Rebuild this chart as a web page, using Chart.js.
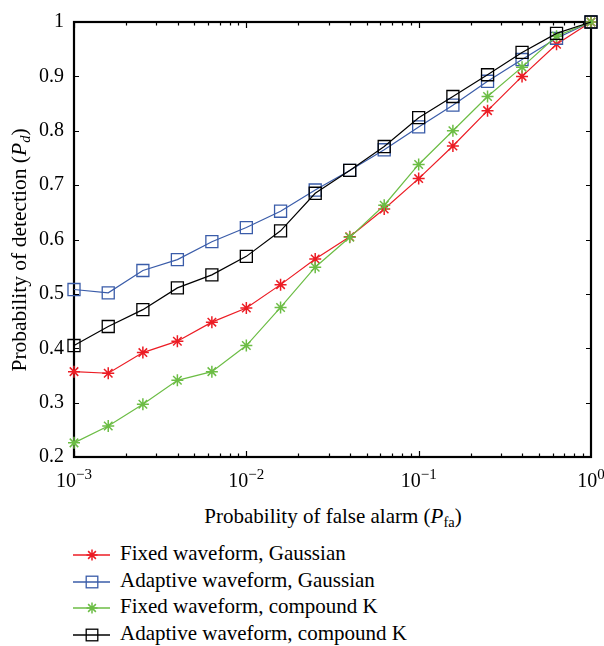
<!DOCTYPE html>
<html>
<head>
<meta charset="utf-8">
<script src="https://cdn.jsdelivr.net/npm/chart.js@4.4.1/dist/chart.umd.min.js"></script>
<style>
  html, body { margin: 0; padding: 0; background: #fff; }
  #wrap { position: relative; width: 604px; height: 646px; overflow: hidden; font-family: "Liberation Serif", "DejaVu Serif", serif; color: #000; }
  #c { position: absolute; left: 0; top: 0; }
  .t { position: absolute; font-size: 21px; line-height: 24px; height: 24px; white-space: nowrap; }
  .t i { font-style: italic; }
  .t sub { font-size: 14.5px; vertical-align: -4px; line-height: 0; }
  #xt { left: 0; width: 666px; top: 504px; text-align: center; }
  #yt { left: -181px; width: 400px; top: 238px; text-align: center; transform: rotate(-90deg); transform-origin: 50% 50%; font-size: 21.5px; }
  .lg { position: absolute; left: 72px; height: 24px; }
  .lg svg { position: absolute; left: 0; top: 0; }
  .lg span { position: absolute; left: 48px; top: 0; font-size: 21px; line-height: 24px; white-space: nowrap; }
</style>
</head>
<body>
<div id="wrap">
  <canvas id="c" width="604" height="495"></canvas>
  <div class="t" id="yt">Probability of detection (<i>P</i><sub><i>d</i></sub>)</div>
  <div class="t" id="xt">Probability of false alarm (<i>P</i><sub>fa</sub>)</div>
  <div id="legend"></div>
</div>
<script>
// ---- data ----
const pfa = [0.001, 0.00158, 0.00251, 0.00398, 0.00631, 0.01, 0.0158, 0.0251, 0.0398, 0.0631, 0.1, 0.158, 0.251, 0.398, 0.631, 1];
const fixedGaussian    = [0.357, 0.354, 0.392, 0.413, 0.448, 0.474, 0.517, 0.564, 0.605, 0.656, 0.712, 0.772, 0.837, 0.900, 0.959, 1.0];
const adaptiveGaussian = [0.508, 0.502, 0.543, 0.563, 0.596, 0.622, 0.652, 0.691, 0.727, 0.765, 0.807, 0.847, 0.891, 0.931, 0.970, 1.0];
const fixedCompoundK   = [0.226, 0.257, 0.297, 0.341, 0.357, 0.405, 0.475, 0.549, 0.604, 0.663, 0.738, 0.800, 0.863, 0.917, 0.974, 1.0];
const adaptiveCompoundK= [0.405, 0.440, 0.471, 0.511, 0.535, 0.569, 0.616, 0.685, 0.727, 0.771, 0.824, 0.863, 0.903, 0.944, 0.979, 1.0];
const seriesLabels = ['Fixed waveform, Gaussian', 'Adaptive waveform, Gaussian', 'Fixed waveform, compound K', 'Adaptive waveform, compound K'];
const yTickValues = [0.2, 0.3, 0.4, 0.5, 0.6, 0.7, 0.8, 0.9, 1.0];
const yTickLabels = ['0.2', '0.3', '0.4', '0.5', '0.6', '0.7', '0.8', '0.9', '1'];
const xTickValues = [0.001, 0.01, 0.1, 1];
const xTickExponents = ['\u22123', '\u22122', '\u22121', '0'];

const RED = '#ec1c24', BLUE = '#3a5ca9', GREEN = '#6cbd45', BLACK = '#000000';
const FONT = '"Liberation Serif", "DejaVu Serif", serif';

function pts(arr) { return pfa.map((x, i) => ({ x: x, y: arr[i] })); }
function ds(label, arr, color, style, order) {
  const isStar = style === 'star';
  return {
    label: label, data: pts(arr), borderColor: color, borderWidth: 1.2,
    pointStyle: style, pointRadius: isStar ? 6 : 8.5, pointBorderWidth: isStar ? 1.5 : 1.3,
    pointBorderColor: color, pointBackgroundColor: 'rgba(0,0,0,0)',
    pointHoverRadius: isStar ? 6 : 8.5, tension: 0, clip: false, order: order, fill: false
  };
}

const framePlugin = {
  id: 'frame',
  beforeDatasetsDraw(chart) {
    const { ctx, chartArea: a, scales: { x, y } } = chart;
    ctx.save();
    ctx.strokeStyle = '#000';
    ctx.lineWidth = 1.2;
    ctx.beginPath();
    for (let d = 0; d < xTickValues.length - 1; d++) {
      for (let m = 1; m <= 9; m++) {
        const v = xTickValues[d] * m;
        const px = Math.round(x.getPixelForValue(v)) + 0.5;
        const len = m === 1 ? 6 : 3.5;
        ctx.moveTo(px, a.bottom); ctx.lineTo(px, a.bottom - len);
        ctx.moveTo(px, a.top); ctx.lineTo(px, a.top + len);
      }
    }
    yTickValues.forEach(v => {
      const py = Math.round(y.getPixelForValue(v)) + 0.5;
      ctx.moveTo(a.left, py); ctx.lineTo(a.left + 5, py);
      ctx.moveTo(a.right, py); ctx.lineTo(a.right - 5, py);
    });
    ctx.stroke();
    ctx.lineWidth = 2.2;
    ctx.strokeRect(a.left, a.top, a.right - a.left, a.bottom - a.top);
    ctx.restore();
  },
  afterDraw(chart) {
    const { ctx, scales: { x } } = chart;
    ctx.save();
    ctx.fillStyle = '#000';
    ctx.textBaseline = 'alphabetic';
    ctx.textAlign = 'left';
    xTickValues.forEach((v, i) => {
      const px = x.getPixelForValue(v);
      ctx.font = '20px ' + FONT;
      const wb = ctx.measureText('10').width;
      ctx.font = '15px ' + FONT;
      const we = ctx.measureText(xTickExponents[i]).width;
      const x0 = px - (wb + we) / 2;
      ctx.font = '20px ' + FONT;
      ctx.fillText('10', x0, 486.5);
      ctx.font = '15px ' + FONT;
      ctx.fillText(xTickExponents[i], x0 + wb, 479);
    });
    ctx.restore();
  }
};

new Chart(document.getElementById('c'), {
  type: 'line',
  data: {
    datasets: [
      ds(seriesLabels[0], fixedGaussian, RED, 'star', 3),
      ds(seriesLabels[1], adaptiveGaussian, BLUE, 'rect', 2),
      ds(seriesLabels[2], fixedCompoundK, GREEN, 'star', 1),
      ds(seriesLabels[3], adaptiveCompoundK, BLACK, 'rect', 0)
    ]
  },
  options: {
    responsive: false, animation: false, devicePixelRatio: 1,
    layout: { padding: { top: 16, right: 13, left: 0, bottom: 0 } },
    events: [],
    plugins: { legend: { display: false }, tooltip: { enabled: false } },
    scales: {
      x: {
        type: 'logarithmic', min: 0.001, max: 1,
        grid: { display: false }, border: { display: false },
        ticks: { display: false },
        afterFit(s) { s.height = 38; }
      },
      y: {
        type: 'linear', min: 0.2, max: 1,
        afterBuildTicks(s) { s.ticks = yTickValues.map(v => ({ value: v })); },
        grid: { display: false, drawTicks: false }, border: { display: false },
        ticks: {
          color: '#000', padding: 10, font: { family: FONT, size: 20 },
          callback(v, i) { return yTickLabels[i]; }
        },
        afterFit(s) { s.width = 74; }
      }
    }
  },
  plugins: [framePlugin]
});

// ---- HTML legend ----
const legendColors = [RED, BLUE, GREEN, BLACK];
const legendStyles = ['star', 'rect', 'star', 'rect'];
const lg = document.getElementById('legend');
seriesLabels.forEach((lab, i) => {
  const baseline = 560 + 26.5 * i;
  const top = baseline - 19;
  const lineY = 555 + 26.5 * i - top;
  const c = legendColors[i];
  let mark;
  if (legendStyles[i] === 'star') {
    const r = 5.5, o = r * Math.SQRT1_2, cx = 20, cy = lineY;
    mark = `<path d="M${cx - r} ${cy}H${cx + r}M${cx} ${cy - r}V${cy + r}M${cx - o} ${cy - o}L${cx + o} ${cy + o}M${cx - o} ${cy + o}L${cx + o} ${cy - o}" stroke="${c}" stroke-width="1.5" fill="none"/>`;
  } else {
    mark = `<rect x="${20 - 5.8}" y="${lineY - 5.8}" width="11.6" height="11.6" stroke="${c}" stroke-width="1.3" fill="none"/>`;
  }
  const div = document.createElement('div');
  div.className = 'lg';
  div.style.top = top + 'px';
  div.style.width = '420px';
  div.innerHTML = `<svg width="44" height="24"><line x1="1" y1="${lineY}" x2="38" y2="${lineY}" stroke="${c}" stroke-width="1.3"/>${mark}</svg><span>${lab}</span>`;
  lg.appendChild(div);
});
</script>
</body>
</html>
